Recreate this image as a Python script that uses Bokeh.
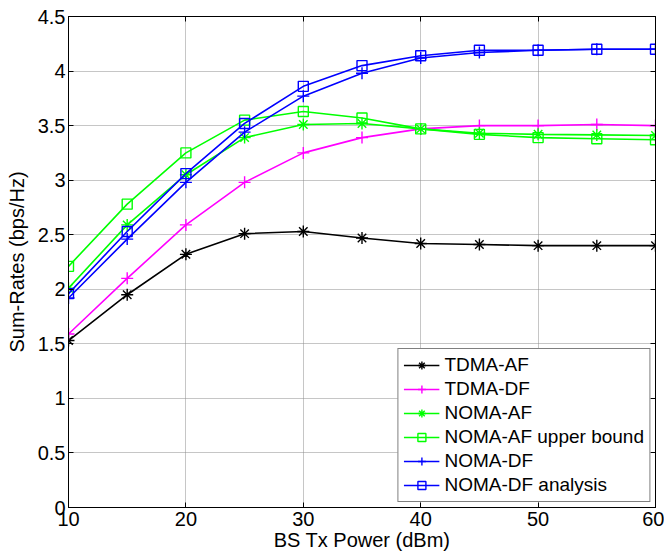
from bokeh.plotting import figure
from bokeh.models import LinearAxis, FixedTicker, CustomJSTickFormatter, Range1d
from bokeh.embed import file_html
from bokeh.resources import INLINE

# ---- data ----
power_dbm = [10, 15, 20, 25, 30, 35, 40, 45, 50, 55, 60]
tdma_af = [1.53, 1.95, 2.32, 2.51, 2.53, 2.47, 2.42, 2.41, 2.40, 2.40, 2.40]
tdma_df = [1.59, 2.10, 2.59, 2.98, 3.25, 3.39, 3.47, 3.50, 3.50, 3.51, 3.50]
noma_af = [2.01, 2.59, 3.05, 3.39, 3.51, 3.52, 3.47, 3.43, 3.42, 3.415, 3.41]
noma_af_ub = [2.21, 2.78, 3.25, 3.55, 3.63, 3.57, 3.47, 3.42, 3.39, 3.38, 3.37]
noma_df = [1.92, 2.46, 2.98, 3.44, 3.77, 3.98, 4.12, 4.17, 4.19, 4.20, 4.20]
noma_df_an = [1.96, 2.53, 3.06, 3.52, 3.86, 4.05, 4.14, 4.19, 4.19, 4.20, 4.20]

x_ticks = [10, 20, 30, 40, 50, 60]
y_ticks = [0, 0.5, 1, 1.5, 2, 2.5, 3, 3.5, 4, 4.5]

series = [
    ("TDMA-AF", tdma_af, "#000000", "asterisk"),
    ("TDMA-DF", tdma_df, "#FF00FF", "cross"),
    ("NOMA-AF", noma_af, "#00FF00", "asterisk"),
    ("NOMA-AF upper bound", noma_af_ub, "#00FF00", "square"),
    ("NOMA-DF", noma_df, "#0000FF", "cross"),
    ("NOMA-DF analysis", noma_df_an, "#0000FF", "square"),
]

FONT = "Liberation Sans"

p = figure(width=664, height=555, output_backend="svg", toolbar_location=None,
           x_range=Range1d(10, 60), y_range=Range1d(0, 4.5),
           min_border_left=68, min_border_right=9, min_border_top=16, min_border_bottom=48,
           x_axis_label="BS Tx Power (dBm)", y_axis_label="Sum-Rates (bps/Hz)")

p.outline_line_color = "black"
p.outline_line_width = 1
p.background_fill_color = "white"
p.border_fill_color = "white"

fmt = CustomJSTickFormatter(code="return tick.toString();")

for ax, ticks in ((p.xaxis[0], x_ticks), (p.yaxis[0], y_ticks)):
    ax.ticker = FixedTicker(ticks=ticks)
    ax.formatter = fmt
    ax.minor_tick_line_color = None
    ax.major_tick_in = 5
    ax.major_tick_out = 0
    ax.major_tick_line_color = "black"
    ax.axis_line_color = "black"
    ax.major_label_text_font = FONT
    ax.major_label_text_font_size = "20px"
    ax.major_label_text_color = "black"
    ax.axis_label_text_font = FONT
    ax.axis_label_text_font_size = "20px"
    ax.axis_label_text_font_style = "normal"
    ax.axis_label_text_color = "black"

p.xaxis[0].major_label_standoff = 4
p.xaxis[0].axis_label_standoff = 0
p.yaxis[0].major_label_standoff = 3
p.yaxis[0].axis_label_standoff = 7

# inner ticks on top and right, like a boxed plot (no labels drawn)
top_ax = LinearAxis(ticker=FixedTicker(ticks=x_ticks), major_tick_in=5, major_tick_out=0,
                    minor_tick_line_color=None, major_label_text_font_size="1px",
                    major_label_text_color=None, major_label_standoff=0)
right_ax = LinearAxis(ticker=FixedTicker(ticks=y_ticks), major_tick_in=5, major_tick_out=0,
                      minor_tick_line_color=None, major_label_text_font_size="1px",
                      major_label_text_color=None, major_label_standoff=0)
p.add_layout(top_ax, "above")
p.add_layout(right_ax, "right")

p.xgrid.ticker = FixedTicker(ticks=x_ticks)
p.ygrid.ticker = FixedTicker(ticks=y_ticks)
for g in (p.xgrid, p.ygrid):
    g.grid_line_color = "#8c8c8c"
    g.grid_line_dash = "1 1"
    g.grid_line_width = 1

for name, vals, color, marker in series:
    p.line(power_dbm, vals, line_color=color, line_width=1.6, legend_label=name)
    size = 10 if marker == "square" else 12
    p.scatter(power_dbm, vals, marker=marker, size=size, line_color=color,
              fill_color=None, line_width=1.4, legend_label=name)

lg = p.legend[0]
lg.location = "bottom_right"
lg.margin = 5
lg.padding = 5
lg.spacing = 2
lg.glyph_width = 36
lg.glyph_height = 20
lg.label_height = 20
lg.label_standoff = 5
lg.label_text_font = FONT
lg.label_text_font_size = "19px"
lg.label_text_color = "black"
lg.border_line_color = "black"
lg.border_line_width = 1
lg.background_fill_color = "white"
lg.background_fill_alpha = 1

open("out.html", "w").write(file_html(p, INLINE))
